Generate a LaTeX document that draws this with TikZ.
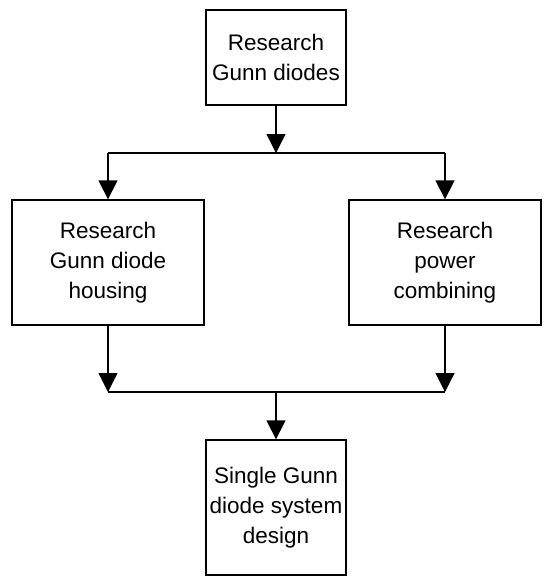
\documentclass[tikz,border=0pt]{standalone}
\usepackage{fontspec}
\setmainfont{Liberation Sans}
\usetikzlibrary{arrows.meta}
\begin{document}
\begin{tikzpicture}[
		x = 1pt, y = -1pt, line width = 1.3pt,
		stagebox/.style = {draw, rectangle, align = center, inner sep = 0pt,
			font = \fontsize{22.5}{30}\selectfont},
		flow/.style = {-{Triangle[length = 19pt, width = 19pt]}},
	]
		\useasboundingbox (0, 0) rectangle (555, 584);
		\node[stagebox, minimum width = 140pt, minimum height = 95pt] (gunn) at (276, 57.5) {Research\\Gunn diodes};
		\node[stagebox, minimum width = 192pt, minimum height = 125pt] (housing) at (108, 262.5) {Research\\Gunn diode\\housing};
		\node[stagebox, minimum width = 192pt, minimum height = 125pt] (combining) at (445, 262.5) {Research\\power\\combining};
		\node[stagebox, minimum width = 140pt, minimum height = 135pt] (single) at (276, 507.5) {Single Gunn\\diode system\\design};
		% split and join lines
		\coordinate (split) at (276, 153);
		\coordinate (splitL) at (108, 153);
		\coordinate (splitR) at (445, 153);
		\coordinate (join) at (276, 392);
		\coordinate (joinL) at (108, 392);
		\coordinate (joinR) at (445, 392);
		\draw[flow] (gunn) -- (split);
		\draw (splitL) -- (splitR);
		\draw[flow] (splitL) -- (housing);
		\draw[flow] (splitR) -- (combining);
		\draw[flow] (housing) -- (joinL);
		\draw[flow] (combining) -- (joinR);
		\draw (joinL) -- (joinR);
		\draw[flow] (join) -- (single);
	\end{tikzpicture}
\end{document}
